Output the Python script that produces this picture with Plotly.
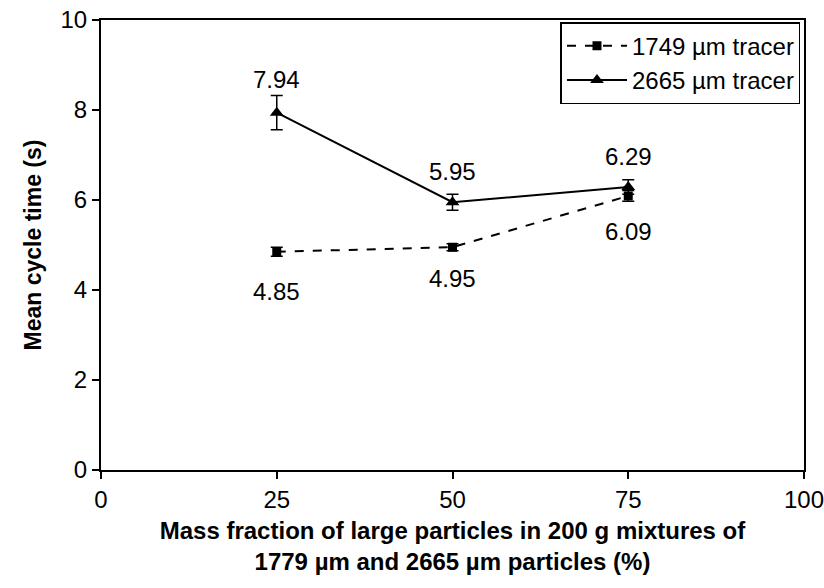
import plotly.graph_objects as go

x_vals = [25, 50, 75]
y_1749 = [4.85, 4.95, 6.09]
err_1749 = [0.10, 0.08, 0.12]
y_2665 = [7.94, 5.95, 6.29]
err_2665 = [0.38, 0.18, 0.16]
name_1749 = "1749 µm tracer"
name_2665 = "2665 µm tracer"

font = "Liberation Sans, Arial, sans-serif"

fig = go.Figure()
fig.add_trace(go.Scatter(
    x=x_vals, y=y_1749, name=name_1749, mode="lines+markers",
    line=dict(color="black", width=2, dash="dash"),
    marker=dict(symbol="square", size=9, color="black"),
    error_y=dict(type="data", array=err_1749, color="black", thickness=1.5, width=6),
))
fig.add_trace(go.Scatter(
    x=x_vals, y=y_2665, name=name_2665, mode="lines+markers",
    line=dict(color="black", width=2),
    marker=dict(symbol="triangle-up", size=12, color="black"),
    error_y=dict(type="data", array=err_2665, color="black", thickness=1.5, width=6),
))

label_shift_1749 = [-40, -31, -36]
label_shift_2665 = [33, 31, 30]
for xv, yv, s in zip(x_vals, y_1749, label_shift_1749):
    fig.add_annotation(x=xv, y=yv, text=f"{yv:.2f}", showarrow=False, yshift=s,
                       font=dict(size=24, color="black", family=font))
for xv, yv, s in zip(x_vals, y_2665, label_shift_2665):
    fig.add_annotation(x=xv, y=yv, text=f"{yv:.2f}", showarrow=False, yshift=s,
                       font=dict(size=24, color="black", family=font))

fig.update_layout(
    width=824, height=588,
    margin=dict(l=101, r=20, t=20, b=118),
    paper_bgcolor="white", plot_bgcolor="white",
    font=dict(family=font, size=24, color="black"),
    showlegend=True,
    legend=dict(x=0.995, y=0.995, xanchor="right", yanchor="top",
                bordercolor="black", borderwidth=1.5, bgcolor="white",
                font=dict(size=24), tracegroupgap=0, itemwidth=60),
    xaxis=dict(range=[0, 100], tickvals=[0, 25, 50, 75, 100], ticks="outside",
               ticklen=7, tickwidth=2, tickcolor="black", showgrid=False, zeroline=False,
               showline=True, linecolor="black", linewidth=2, mirror=True,
               tickfont=dict(size=24), automargin=False, ticklabeloverflow="allow",
               title=dict(text="<b>Mass fraction of large particles in 200 g mixtures of<br>1779 µm and 2665 µm particles (%)</b>",
                          font=dict(size=24), standoff=10)),
    yaxis=dict(range=[0, 10], tickvals=[0, 2, 4, 6, 8, 10], ticks="outside",
               ticklen=7, tickwidth=2, tickcolor="black", showgrid=False, zeroline=False,
               showline=True, linecolor="black", linewidth=2, mirror=True,
               tickfont=dict(size=24), automargin=False, ticklabeloverflow="allow",
               title=dict(text="<b>Mean cycle time (s)</b>", font=dict(size=23), standoff=12)),
)

fig.write_html("out.html")
